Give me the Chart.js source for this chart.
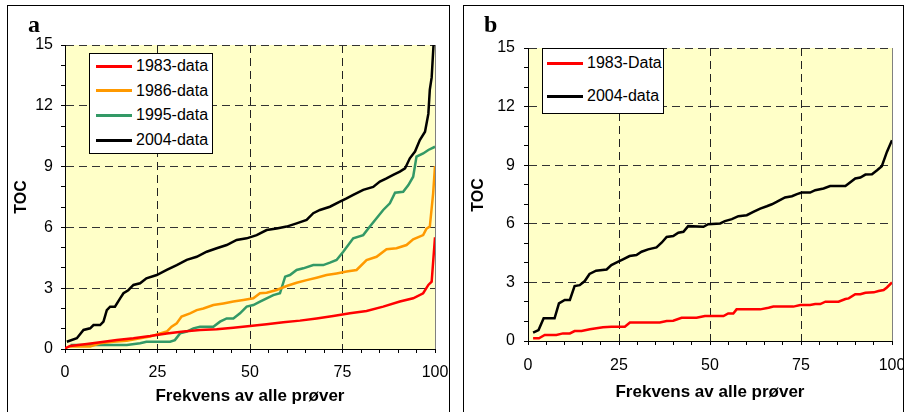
<!DOCTYPE html>
<html>
<head>
<meta charset="utf-8">
<script src="https://cdn.jsdelivr.net/npm/chart.js"></script>
<style>
  body { margin: 0; background: #fff; overflow: hidden; }
  #page { position: relative; width: 904px; height: 412px; overflow: hidden; font-family: 'Liberation Sans', Arial, sans-serif; color: #000; }
  .panel { position: absolute; border: 1px solid #000; box-sizing: border-box; }
  .panel canvas { position: absolute; left: 0; top: 0; }
  .tag { position: absolute; font-family: 'Liberation Serif', 'Times New Roman', serif; font-weight: bold; font-size: 24px; line-height: 24px; }
  .xt { position: absolute; width: 300px; margin-left: -150px; text-align: center; font-weight: bold; font-size: 17px; line-height: 20px; white-space: nowrap; }
  .yt { position: absolute; width: 80px; text-align: center; font-weight: bold; font-size: 16px; line-height: 20px; transform: translate(-50%, -50%) rotate(-90deg); }
  .legend { position: absolute; border: 1px solid #000; background: #fff; box-sizing: border-box; }
  .legend .ln { position: absolute; height: 3px; width: 36px; }
  .legend .tx { position: absolute; font-size: 16px; line-height: 18px; white-space: nowrap; }
</style>
</head>
<body>
<div id="page">
  <div class="panel" style="left:7px;top:5px;width:443px;height:420px;">
    <canvas id="chartA" width="441" height="406"></canvas>
  </div>
  <div class="panel" style="left:463px;top:5px;width:441px;height:420px;">
    <canvas id="chartB" width="439" height="406"></canvas>
  </div>
  <div class="tag" style="left:28px;top:12px;">a</div>
  <div class="tag" style="left:484px;top:12px;">b</div>
  <div class="xt" style="left:250px;top:386px;">Frekvens av alle prøver</div>
  <div class="xt" style="left:710px;top:382px;">Frekvens av alle prøver</div>
  <div class="yt" style="left:21px;top:197px;">TOC</div>
  <div class="yt" style="left:478px;top:195px;">TOC</div>
  <div class="legend" id="legA" style="left:89px;top:53px;width:124px;height:101px;"></div>
  <div class="legend" id="legB" style="left:542px;top:48px;width:122px;height:66px;"></div>
</div>
<script>
// ---- panel a ----
const namesA = ['1983-data', '1986-data', '1995-data', '2004-data'];
const colorsA = ['#FF0000', '#FF9900', '#339966', '#000000'];

const a83x = [0, 1.4, 5.9, 9.5, 14, 18.5, 23, 27.5, 32, 36.5, 41, 45.5, 50, 54.5, 59, 63.5, 68, 72.5, 77, 81.5, 86, 90.5, 94.1, 96.8, 98.2, 99.1, 99.4, 100];
const a83y = [0.03, 0.15, 0.25, 0.33, 0.44, 0.53, 0.64, 0.77, 0.86, 0.94, 0.97, 1.05, 1.13, 1.22, 1.32, 1.4, 1.51, 1.63, 1.76, 1.88, 2.09, 2.34, 2.5, 2.75, 3.16, 3.32, 4.06, 5.51];

const a86x = [1, 6.8, 9.5, 13.1, 16.7, 20.3, 23, 25.7, 27.5, 28.8, 30.2, 31.5, 33.8, 35.6, 37.4, 40.1, 42.8, 45.5, 48.2, 50.9, 52.7, 54.5, 57.2, 59.9, 62.6, 65.3, 68, 70.7, 73.4, 76.1, 78.8, 81.5, 84.2, 86.9, 89.6, 92.3, 94.1, 96.8, 97.7, 98.6, 99.5, 100];
const a86y = [0.12, 0.12, 0.28, 0.36, 0.41, 0.53, 0.61, 0.77, 0.86, 1.1, 1.27, 1.6, 1.76, 1.92, 2.0, 2.17, 2.25, 2.34, 2.42, 2.5, 2.75, 2.78, 2.91, 3.11, 3.27, 3.4, 3.52, 3.65, 3.73, 3.82, 3.9, 4.39, 4.55, 4.92, 4.97, 5.13, 5.41, 5.62, 5.94, 6.04, 7.68, 9.03];

const a95x = [1.5, 16.7, 20.3, 22, 28.4, 29.7, 31.1, 32.9, 34.7, 36.5, 40.1, 41.9, 43.7, 45.5, 47.3, 49.1, 50.9, 52.7, 54.5, 56.3, 58.1, 59.5, 60.8, 62.6, 64.4, 67.1, 69.8, 71.6, 73.4, 75.2, 77.9, 80.6, 82.4, 86, 87.8, 89.2, 91.4, 92.8, 94.1, 95, 96.8, 98.2, 100];
const a95y = [0.2, 0.2, 0.28, 0.36, 0.36, 0.44, 0.77, 0.86, 1.02, 1.1, 1.1, 1.35, 1.51, 1.51, 1.76, 2.09, 2.17, 2.34, 2.5, 2.66, 2.75, 3.57, 3.65, 3.9, 3.98, 4.14, 4.14, 4.26, 4.39, 4.8, 5.46, 5.62, 6.04, 6.86, 7.19, 7.71, 7.76, 8.09, 8.5, 9.49, 9.65, 9.82, 9.98];

const a04x = [0.5, 3.2, 5, 6.8, 7.7, 9.5, 10.4, 11.3, 12.2, 13.5, 14.9, 15.8, 17.1, 18.5, 20.3, 22, 24.8, 27.5, 30.2, 32.9, 35.6, 38.3, 41, 43.7, 46.4, 49.1, 51.8, 54.5, 57.2, 59.9, 62.6, 65.3, 67.1, 68.9, 71.6, 74.3, 76.1, 77.9, 80.6, 83.3, 85.1, 86.9, 88.7, 90.5, 91.9, 93.2, 94.6, 95.9, 97.3, 98.2, 98.6, 99.1, 99.6];
const a04y = [0.36, 0.53, 0.94, 1.02, 1.18, 1.18, 1.35, 1.92, 2.09, 2.09, 2.5, 2.75, 2.9, 3.16, 3.24, 3.49, 3.65, 3.9, 4.14, 4.4, 4.55, 4.8, 4.97, 5.13, 5.38, 5.46, 5.62, 5.87, 5.95, 6.04, 6.2, 6.37, 6.7, 6.86, 7.02, 7.27, 7.43, 7.6, 7.85, 8.0, 8.26, 8.42, 8.59, 8.75, 8.91, 9.41, 9.74, 10.31, 10.72, 11.6, 12.8, 13.4, 15];

// ---- panel b ----
const namesB = ['1983-Data', '2004-data'];
const colorsB = ['#FF0000', '#000000'];

const b83x = [1.4, 3, 4.6, 7.8, 9.6, 11.5, 12.8, 14.7, 17, 18.8, 20.6, 22.9, 26.6, 28, 36.2, 38.1, 39.9, 42.2, 46.3, 48.6, 53.7, 55, 56.4, 57.3, 63.8, 66.1, 67.4, 72.9, 74.8, 77.5, 78.9, 80.3, 81.7, 85.3, 87.2, 88.1, 89.9, 91.3, 92.7, 95, 96.3, 97.7, 98.6, 100];
const b83y = [0.14, 0.14, 0.31, 0.31, 0.39, 0.39, 0.51, 0.51, 0.6, 0.65, 0.7, 0.73, 0.73, 0.95, 0.95, 1.02, 1.04, 1.19, 1.19, 1.28, 1.28, 1.41, 1.41, 1.62, 1.62, 1.7, 1.76, 1.76, 1.84, 1.84, 1.89, 1.89, 2.01, 2.01, 2.15, 2.18, 2.39, 2.39, 2.47, 2.49, 2.56, 2.61, 2.74, 3.0];

const b04x = [1.4, 2.9, 4.3, 7.3, 8.5, 10.1, 11.5, 12.8, 14.2, 15.6, 16.9, 18.7, 21.6, 22.9, 24.8, 26.1, 27.9, 29.8, 31.2, 33, 35.3, 36.7, 38.1, 39.9, 41.3, 42.7, 44, 48.2, 49.5, 52.8, 54.1, 56, 57.8, 60.1, 61.9, 63.8, 65.6, 67, 68.3, 70.6, 72.5, 73.9, 75.2, 77.5, 78.9, 81.2, 83, 87.2, 88.1, 89.9, 91.3, 92.7, 94.5, 95.9, 97.2, 98.6, 100];
const b04y = [0.43, 0.56, 1.16, 1.16, 1.93, 2.1, 2.1, 2.81, 2.86, 3.07, 3.43, 3.6, 3.66, 3.89, 4.06, 4.18, 4.35, 4.4, 4.57, 4.69, 4.79, 5.03, 5.33, 5.37, 5.54, 5.59, 5.88, 5.85, 5.98, 6.02, 6.14, 6.24, 6.39, 6.44, 6.61, 6.78, 6.9, 7.0, 7.12, 7.35, 7.41, 7.52, 7.6, 7.6, 7.72, 7.81, 7.93, 7.93, 8.06, 8.32, 8.37, 8.52, 8.54, 8.74, 8.95, 9.68, 10.28];

const yTicksShown = [0, 3, 6, 9, 12, 15];
const xTicksShown = [0, 25, 50, 75, 100];

function pts(xs, ys) {
  return xs.map((x, i) => ({ x: x, y: ys[i] }));
}

// yellow plot area + grey right edge
const plotBg = {
  id: 'plotBg',
  beforeDraw(chart) {
    const { ctx, chartArea: c } = chart;
    ctx.save();
    ctx.fillStyle = '#FFFFC8';
    ctx.fillRect(c.left, c.top, c.right - c.left, c.bottom - c.top);
    ctx.restore();
  },
  beforeDatasetsDraw(chart) {
    const { ctx, chartArea: c } = chart;
    ctx.save();
    ctx.strokeStyle = '#808080';
    ctx.lineWidth = 1;
    ctx.beginPath();
    ctx.moveTo(c.right + 0.5, c.top);
    ctx.lineTo(c.right + 0.5, c.bottom);
    ctx.stroke();
    ctx.restore();
  }
};

function makeChart(id, sets, lay) {
  const font = { family: "'Liberation Sans', Arial, sans-serif", size: 16 };
  return new Chart(document.getElementById(id), {
    type: 'line',
    data: {
      datasets: sets.map(s => ({
        label: s.label,
        data: s.data,
        borderColor: s.color,
        borderWidth: 2.5,
        pointRadius: 0,
        tension: 0,
        fill: false
      }))
    },
    options: {
      responsive: false,
      animation: false,
      devicePixelRatio: 1,
      layout: { padding: { left: 0, top: lay.top, right: lay.right, bottom: 0 } },
      plugins: { legend: { display: false }, tooltip: { enabled: false } },
      scales: {
        x: {
          type: 'linear',
          min: 0, max: 100,
          afterFit(scale) {
            scale.height = lay.xH;
            scale.paddingLeft = 0;
            scale.paddingRight = 0;
          },
          grid: {
            color: c => (c.tick && c.tick.value > 0 && c.tick.value < 100 && c.tick.value % 25 === 0) ? '#222' : 'transparent',
            tickColor: '#000',
            tickLength: 4,
            lineWidth: 1
          },
          border: { color: '#000', width: 1, dash: [8, 5] },
          ticks: {
            stepSize: 5,
            autoSkip: false,
            maxRotation: 0,
            padding: lay.xPad,
            color: '#000',
            font: font,
            callback: v => xTicksShown.includes(v) ? String(v) : ''
          }
        },
        y: {
          type: 'linear',
          min: 0, max: 15,
          afterFit(scale) {
            scale.width = lay.yW;
            scale.paddingTop = 0;
            scale.paddingBottom = 0;
          },
          grid: {
            color: c => (c.tick && c.tick.value > 0 && c.tick.value % 3 === 0) ? '#333' : 'transparent',
            tickColor: '#000',
            tickLength: 4,
            lineWidth: 1
          },
          border: { color: '#000', width: 1, dash: [8, 5] },
          ticks: {
            stepSize: 1,
            autoSkip: false,
            padding: lay.yPad,
            color: '#000',
            font: font,
            callback: v => yTicksShown.includes(v) ? String(v) : ''
          }
        }
      }
    },
    plugins: [plotBg]
  });
}

makeChart('chartA', [
  { label: namesA[0], color: colorsA[0], data: pts(a83x, a83y) },
  { label: namesA[1], color: colorsA[1], data: pts(a86x, a86y) },
  { label: namesA[2], color: colorsA[2], data: pts(a95x, a95y) },
  { label: namesA[3], color: colorsA[3], data: pts(a04x, a04y) }
], { top: 39, right: 14, xH: 63, yW: 57, xPad: 10, yPad: 8 });

makeChart('chartB', [
  { label: namesB[0], color: colorsB[0], data: pts(b83x, b83y) },
  { label: namesB[1], color: colorsB[1], data: pts(b04x, b04y) }
], { top: 42, right: 11, xH: 71, yW: 64, xPad: 11, yPad: 9 });

// legends sit inside the plot areas, like the original
function buildLegend(elId, names, colors, firstY, step, lineX, textX) {
  const box = document.getElementById(elId);
  names.forEach((n, i) => {
    const cy = firstY + i * step;
    const ln = document.createElement('div');
    ln.className = 'ln';
    ln.style.left = lineX + 'px';
    ln.style.top = (cy - 1.5) + 'px';
    ln.style.background = colors[i];
    box.appendChild(ln);
    const tx = document.createElement('div');
    tx.className = 'tx';
    tx.style.left = textX + 'px';
    tx.style.top = (cy - 9) + 'px';
    tx.textContent = n;
    box.appendChild(tx);
  });
}
buildLegend('legA', namesA, colorsA, 12, 24.7, 6, 46);
buildLegend('legB', namesB, colorsB, 14, 33, 4, 44);
</script>
</body>
</html>
